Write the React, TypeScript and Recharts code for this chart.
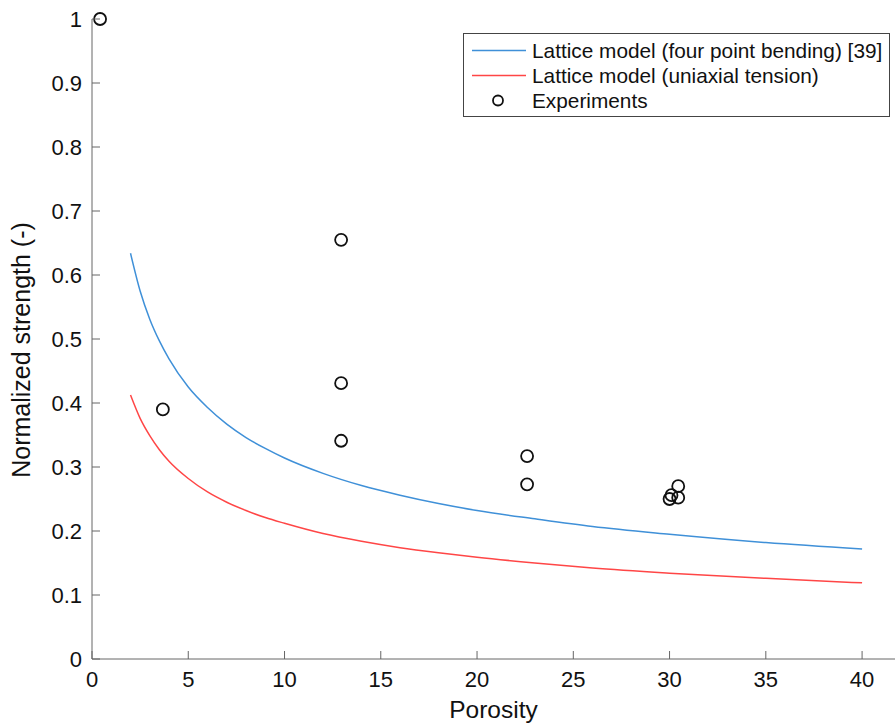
import { ComposedChart, Line, Scatter, XAxis, YAxis, Legend } from "recharts"

const FONT = '"Liberation Sans", Arial, Helvetica, sans-serif'
const AXIS = "#666"
const BLUE = "#3f90d8"
const RED = "#ff4646"

const X_TICKS = [0, 5, 10, 15, 20, 25, 30, 35, 40]
const Y_TICKS = [0, 0.1, 0.2, 0.3, 0.4, 0.5, 0.6, 0.7, 0.8, 0.9, 1]

// model curves
const POROSITY = [2, 2.5, 3, 3.5, 4, 5, 6, 7, 8, 9, 10, 12, 14, 16, 18, 20, 23, 26, 30, 35, 40]
const BENDING = [0.634, 0.575, 0.531, 0.497, 0.469, 0.425, 0.393, 0.367, 0.346, 0.329, 0.314, 0.29, 0.271, 0.256, 0.243, 0.232, 0.219, 0.207, 0.195, 0.182, 0.172]
const TENSION = [0.4125, 0.376, 0.349, 0.327, 0.309, 0.282, 0.261, 0.245, 0.232, 0.221, 0.212, 0.196, 0.184, 0.174, 0.166, 0.159, 0.15, 0.142, 0.134, 0.126, 0.119]

// experiments
const EXP_X = [0.42, 3.68, 12.94, 12.94, 12.94, 22.6, 22.6, 30.0, 30.1, 30.45, 30.45]
const EXP_Y = [1.0, 0.39, 0.655, 0.431, 0.341, 0.317, 0.273, 0.25, 0.256, 0.252, 0.27]

const bendingData = POROSITY.map((x, i) => ({ x, y: BENDING[i] }))
const tensionData = POROSITY.map((x, i) => ({ x, y: TENSION[i] }))
const expData = EXP_X.map((x, i) => ({ x, y: EXP_Y[i] }))

function BottomTick({ x, y, payload }: any) {
  return (
    <g>
      <line x1={x} x2={x} y1={y} y2={y - 8} stroke={AXIS} />
      <text x={x} y={y + 28} textAnchor="middle" fontSize={22} fontFamily={FONT} fill="#111">
        {payload.value}
      </text>
    </g>
  )
}

function TopTick({ x, y }: any) {
  return <line x1={x} x2={x} y1={y} y2={y + 8} stroke={AXIS} />
}

function LeftTick({ x, y, payload }: any) {
  return (
    <g>
      <line x1={x + 10} x2={x + 18} y1={y} y2={y} stroke={AXIS} />
      <text x={x} y={y} dy="0.36em" textAnchor="end" fontSize={22} fontFamily={FONT} fill="#111">
        {payload.value}
      </text>
    </g>
  )
}

function Ring(props: any) {
  const { cx, cy } = props
  return <circle cx={cx} cy={cy} r={6} fill="none" stroke="#111" strokeWidth={1.8} />
}

function LegendBox({ payload }: any) {
  // lines first, then the experiments, as in the figure
  const items = [...(payload || [])].sort(
    (a: any, b: any) => (a.type === "line" ? 0 : 1) - (b.type === "line" ? 0 : 1)
  )
  return (
    <div
      style={{
        border: "1px solid #444",
        background: "#fff",
        height: 84,
        boxSizing: "border-box",
        paddingTop: 4,
        fontFamily: FONT,
        fontSize: 20.8,
        color: "#111",
      }}
    >
      {items.map((entry: any) => (
        <div key={entry.value} style={{ display: "flex", alignItems: "center", height: 25 }}>
          <svg width={68} height={25} style={{ flex: "none" }}>
            {entry.type === "line" ? (
              <line x1={8} x2={62} y1={12.5} y2={12.5} stroke={entry.color} strokeWidth={1.5} />
            ) : (
              <circle cx={34} cy={12.5} r={5} fill="none" stroke="#111" strokeWidth={1.8} />
            )}
          </svg>
          <span style={{ whiteSpace: "nowrap" }}>{entry.value}</span>
        </div>
      ))}
    </div>
  )
}

export default function App() {
  return (
    <div style={{ position: "absolute", left: 0, top: 0, background: "#fff" }}>
      <ComposedChart width={895} height={724} margin={{ top: 19, right: 0, bottom: 0, left: 0 }}>
        <XAxis
          xAxisId="top"
          orientation="top"
          type="number"
          dataKey="x"
          domain={[0, 41.71]}
          allowDataOverflow
          ticks={X_TICKS}
          height={0}
          tickSize={0}
          tickMargin={0}
          tick={<TopTick />}
          axisLine={{ stroke: AXIS }}
        />
        <XAxis
          type="number"
          dataKey="x"
          domain={[0, 41.71]}
          allowDataOverflow
          ticks={X_TICKS}
          height={65}
          tickSize={0}
          tickMargin={0}
          tick={<BottomTick />}
          axisLine={{ stroke: AXIS }}
          label={{ value: "Porosity", position: "insideBottom", offset: 6, fontSize: 24.5, fontFamily: FONT, fill: "#111" }}
        />
        <YAxis
          type="number"
          dataKey="y"
          domain={[0, 1]}
          ticks={Y_TICKS}
          width={92}
          tickSize={0}
          tickMargin={10}
          tick={<LeftTick />}
          axisLine={{ stroke: AXIS }}
          label={{
            content: ({ viewBox }: any) => {
              const cy = viewBox.y + viewBox.height / 2 + 11
              return (
                <text
                  x={21}
                  y={cy}
                  transform={`rotate(-90 21 ${cy})`}
                  textAnchor="middle"
                  dominantBaseline="central"
                  fontSize={25}
                  fontFamily={FONT}
                  fill="#111"
                >
                  Normalized strength (-)
                </text>
              )
            },
          }}
        />
        <Legend
          layout="horizontal"
          verticalAlign="middle"
          align="center"
          itemSorter={null as any}
          wrapperStyle={{ left: 463, top: 33, width: 427 }}
          content={<LegendBox />}
        />
        <Line
          data={bendingData}
          dataKey="y"
          name="Lattice model (four point bending) [39]"
          type="monotone"
          stroke={BLUE}
          strokeWidth={1.5}
          dot={false}
          activeDot={false}
          legendType="line"
          isAnimationActive={false}
        />
        <Line
          data={tensionData}
          dataKey="y"
          name="Lattice model (uniaxial tension)"
          type="monotone"
          stroke={RED}
          strokeWidth={1.5}
          dot={false}
          activeDot={false}
          legendType="line"
          isAnimationActive={false}
        />
        <Scatter
          data={expData}
          dataKey="y"
          name="Experiments"
          shape={<Ring />}
          legendType="circle"
          isAnimationActive={false}
        />
      </ComposedChart>
    </div>
  )
}
